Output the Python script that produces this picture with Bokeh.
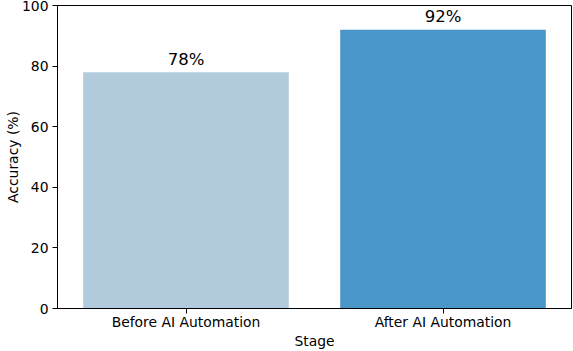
from bokeh.plotting import figure
from bokeh.models import ColumnDataSource, Range1d, FixedTicker
from bokeh.embed import file_html
from bokeh.resources import INLINE
from bokeh.core.properties import value

stages = ["Before AI Automation", "After AI Automation"]
accuracy = [78, 92]
colors = ["#b1cbdd", "#4a96c8"]
yticks = [0, 20, 40, 60, 80, 100]

src = ColumnDataSource(dict(
    stage=stages,
    acc=accuracy,
    color=colors,
    label=[f"{v}%" for v in accuracy],
))

FONT = "DejaVu Sans"

p = figure(
    x_range=stages, y_range=Range1d(0, 100),
    width=573, height=351, output_backend="svg", toolbar_location=None,
    min_border_left=57, min_border_right=2, min_border_top=5, min_border_bottom=43,
)
p.x_range.range_padding = 0

p.vbar(x="stage", top="acc", width=0.8, color="color", line_color=None, source=src)
p.text(x="stage", y="acc", text="label", source=src, text_align="center",
       text_baseline="alphabetic", y_offset=-13, text_font=value(FONT),
       text_font_size="16.5px", text_color="black")

p.grid.visible = False
p.outline_line_color = "black"
p.outline_line_width = 1
p.outline_line_alpha = 1

for ax in (p.xaxis[0], p.yaxis[0]):
    ax.axis_line_color = "black"
    ax.major_tick_line_color = "black"
    ax.major_tick_out = 5
    ax.major_tick_in = 0
    ax.minor_tick_line_color = None
    ax.major_label_text_font = FONT
    ax.major_label_text_font_size = "13.9px"
    ax.major_label_text_color = "black"
    ax.axis_label_text_font = FONT
    ax.axis_label_text_font_size = "13.9px"
    ax.axis_label_text_font_style = "normal"
    ax.axis_label_text_color = "black"

p.xaxis.major_label_standoff = 0
p.xaxis.axis_label_standoff = 0
p.yaxis.major_label_standoff = 4
p.yaxis.axis_label_standoff = -2

p.yaxis.ticker = FixedTicker(ticks=yticks)
p.yaxis.axis_label = "Accuracy (%)"
p.xaxis.axis_label = "Stage"

open("out.html", "w").write(file_html(p, INLINE))
